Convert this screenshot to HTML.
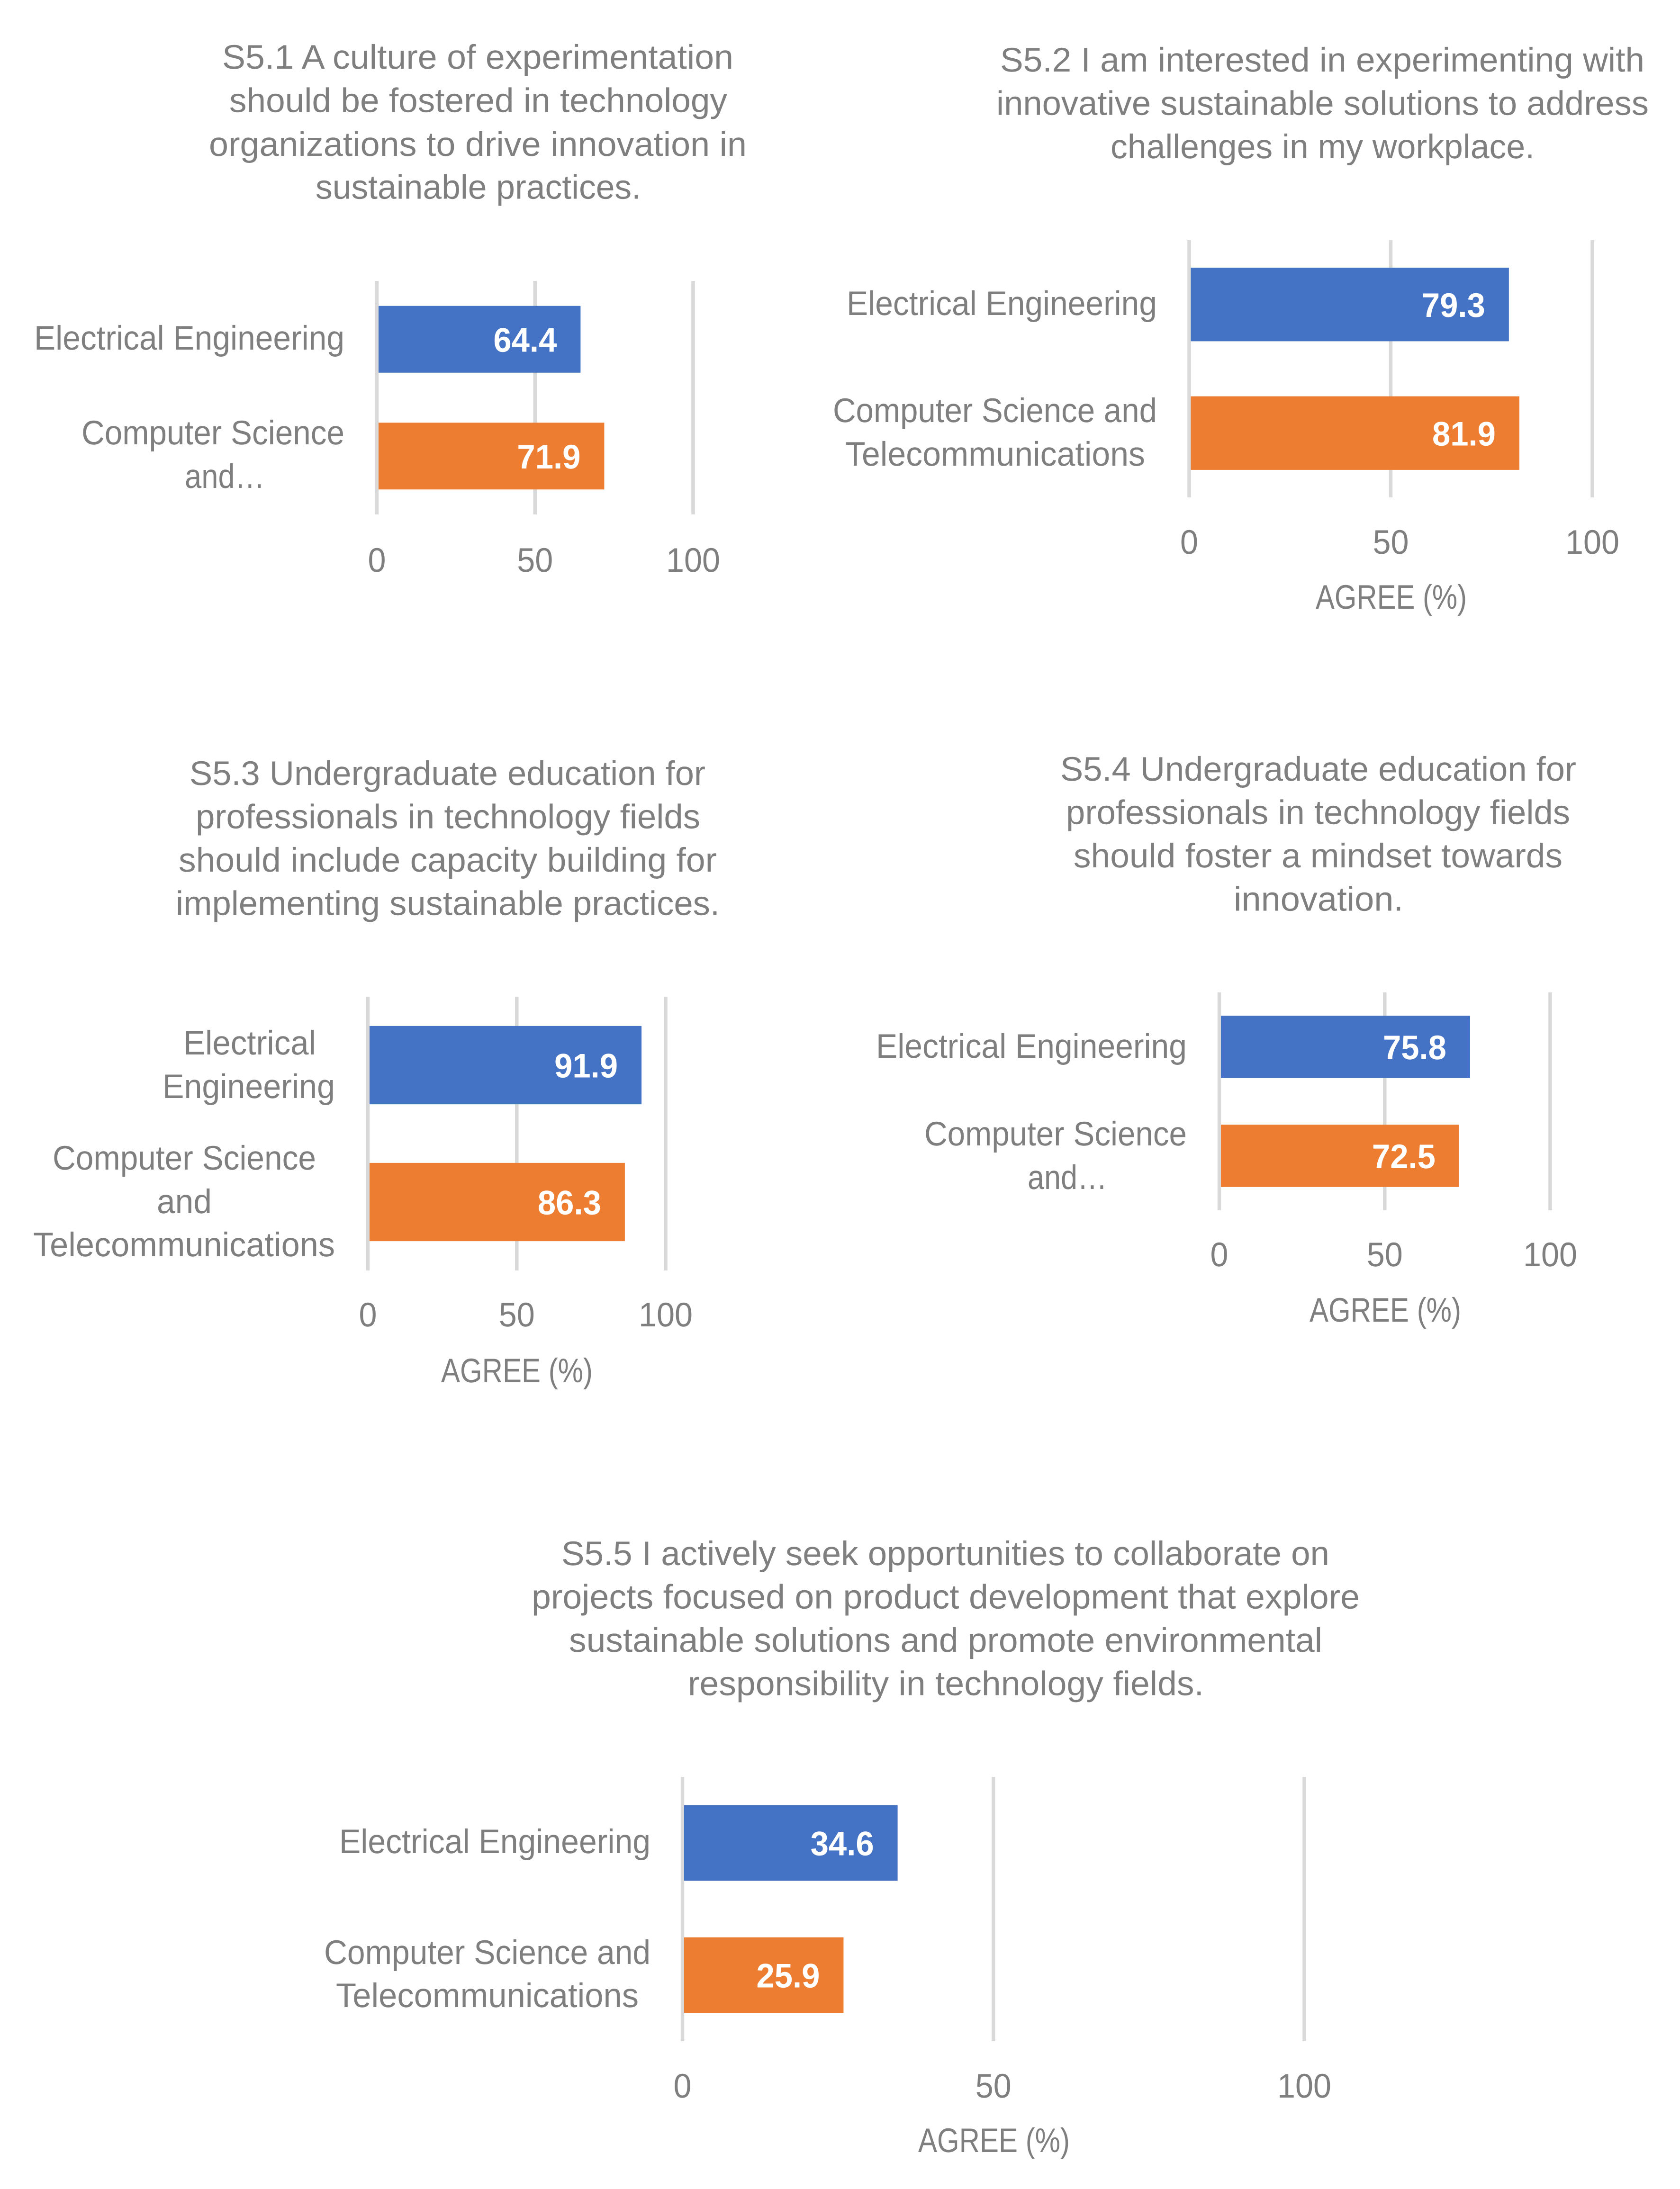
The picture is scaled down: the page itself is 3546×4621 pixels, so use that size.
<!DOCTYPE html>
<html lang="en">
<head>
<meta charset="utf-8">
<title>S5 agreement by department</title>
<style>
html,body{margin:0;padding:0;background:#fff;width:3546px;height:4621px;overflow:hidden}
svg{display:block}
text{font-family:"Liberation Sans",sans-serif;font-size:72px;fill:#7f7f7f;text-rendering:geometricPrecision}
.value{font-weight:bold;fill:#fff}
</style>
</head>
<body>
<svg id="figure" xmlns="http://www.w3.org/2000/svg" width="3546" height="4621" viewBox="0 0 3546 4621">
  <rect x="0" y="0" width="3546" height="4621" fill="#ffffff"/>

  <g>
    <text x="469" y="145" textLength="1079" lengthAdjust="spacingAndGlyphs">S5.1 A culture of experimentation</text>
    <text x="484" y="236.5" textLength="1051" lengthAdjust="spacingAndGlyphs">should be fostered in technology</text>
    <text x="441" y="329" textLength="1135" lengthAdjust="spacingAndGlyphs">organizations to drive innovation in</text>
    <text x="666" y="419.5" textLength="687" lengthAdjust="spacingAndGlyphs">sustainable practices.</text>
  </g>
  <g>
    <text x="2111" y="151" textLength="1360" lengthAdjust="spacingAndGlyphs">S5.2 I am interested in experimenting with</text>
    <text x="2103" y="242.5" textLength="1377" lengthAdjust="spacingAndGlyphs">innovative sustainable solutions to address</text>
    <text x="2344" y="334" textLength="895" lengthAdjust="spacingAndGlyphs">challenges in my workplace.</text>
  </g>
  <g>
    <text x="400" y="1657" textLength="1089" lengthAdjust="spacingAndGlyphs">S5.3 Undergraduate education for</text>
    <text x="413" y="1748.5" textLength="1065" lengthAdjust="spacingAndGlyphs">professionals in technology fields</text>
    <text x="377" y="1840" textLength="1136" lengthAdjust="spacingAndGlyphs">should include capacity building for</text>
    <text x="371" y="1931.5" textLength="1148" lengthAdjust="spacingAndGlyphs">implementing sustainable practices.</text>
  </g>
  <g>
    <text x="2238" y="1648" textLength="1089" lengthAdjust="spacingAndGlyphs">S5.4 Undergraduate education for</text>
    <text x="2250" y="1739.5" textLength="1064" lengthAdjust="spacingAndGlyphs">professionals in technology fields</text>
    <text x="2266" y="1831" textLength="1032" lengthAdjust="spacingAndGlyphs">should foster a mindset towards</text>
    <text x="2604" y="1922.5" textLength="358" lengthAdjust="spacingAndGlyphs">innovation.</text>
  </g>
  <g>
    <text x="1185" y="3304" textLength="1621" lengthAdjust="spacingAndGlyphs">S5.5 I actively seek opportunities to collaborate on</text>
    <text x="1122" y="3395.5" textLength="1748" lengthAdjust="spacingAndGlyphs">projects focused on product development that explore</text>
    <text x="1201" y="3487" textLength="1590" lengthAdjust="spacingAndGlyphs">sustainable solutions and promote environmental</text>
    <text x="1452" y="3578.5" textLength="1089" lengthAdjust="spacingAndGlyphs">responsibility in technology fields.</text>
  </g>
</svg>
<script>
const tickLabels = [0, 50, 100];
const axisTitleText = "AGREE (%)";

const s51Categories = [["Electrical Engineering"], ["Computer Science", "and…"]];
const s52Categories = [["Electrical Engineering"], ["Computer Science and", "Telecommunications"]];
const s53Categories = [["Electrical", "Engineering"], ["Computer Science", "and", "Telecommunications"]];
const s54Categories = [["Electrical Engineering"], ["Computer Science", "and…"]];
const s55Categories = [["Electrical Engineering"], ["Computer Science and", "Telecommunications"]];

const s51Values = [64.4, 71.9];
const s52Values = [79.3, 81.9];
const s53Values = [91.9, 86.3];
const s54Values = [75.8, 72.5];
const s55Values = [34.6, 25.9];

const barColors = ["#4472c4", "#ed7d31"];

/* Layout only: plot frames and text boxes [left, right, baseline] for category label lines. */
const charts = [
  {id:"s5-1", categories:s51Categories, values:s51Values, x0:795.5, x100:1463, top:593, bottom:1086, tickY:1207, titleY:null, titleX:[0,0],
   labels:[[[75,724,738]], [[175,724,938],[393,556,1030]]]},
  {id:"s5-2", categories:s52Categories, values:s52Values, x0:2510, x100:3361, top:507, bottom:1050, tickY:1169, titleY:1285, titleX:[2778,3093],
   labels:[[[1790,2439,665]], [[1761,2439,891],[1787,2414,983]]]},
  {id:"s5-3", categories:s53Categories, values:s53Values, x0:776.5, x100:1405, top:2104, bottom:2682, tickY:2800, titleY:2918, titleX:[932,1248],
   labels:[[[390,664,2226],[346,704,2318]], [[114,664,2469],[334,444,2561],[73,704,2652]]]},
  {id:"s5-4", categories:s54Categories, values:s54Values, x0:2573.5, x100:3272, top:2095, bottom:2555, tickY:2673, titleY:2790, titleX:[2765,3081],
   labels:[[[1852,2502,2233]], [[1954,2502,2418],[2172,2334,2510]]]},
  {id:"s5-5", categories:s55Categories, values:s55Values, x0:1440.5, x100:2753, top:3751, bottom:4309, tickY:4428, titleY:4543, titleX:[1939,2255],
   labels:[[[719,1370,3912]], [[687,1370,4146],[712,1345,4237]]]}
];

const SVG_NS = "http://www.w3.org/2000/svg";
const figure = document.getElementById("figure");

function make(tag, attrs, parent) {
  const el = document.createElementNS(SVG_NS, tag);
  Object.keys(attrs).forEach(function (k) { el.setAttribute(k, attrs[k]); });
  parent.appendChild(el);
  return el;
}

function drawChart(chart) {
  const xScale = function (v) { return chart.x0 + (v / 100) * (chart.x100 - chart.x0); };
  const band = (chart.bottom - chart.top) / chart.categories.length;
  const barHeight = band * 0.572;
  const bandCenter = function (i) { return chart.top + (i + 0.5) * band; };

  const group = make("g", {}, figure);
  
  

  tickLabels.forEach(function (t) {
    const line = make("line", {x1: xScale(t), x2: xScale(t), y1: chart.top, y2: chart.bottom, stroke: "#d9d9d9", "stroke-width": 7.5}, group);
    
    

    const label = make("text", {x: xScale(t), y: chart.tickY, "text-anchor": "middle", textLength: String(t).length * 38, lengthAdjust: "spacingAndGlyphs"}, group);
    label.textContent = t;
    
    
  });

  chart.values.forEach(function (v, i) {
    const left = xScale(0) + 3.5;
    const right = xScale(v);
    const bar = make("rect", {x: left, y: bandCenter(i) - barHeight / 2, width: right - left, height: barHeight, fill: barColors[i]}, group);
    
    

    const value = make("text", {"class": "value", x: right - 50 - 134, y: bandCenter(i) + 26, textLength: 134, lengthAdjust: "spacingAndGlyphs"}, group);
    value.textContent = v.toFixed(1);
    
    
  });

  chart.categories.forEach(function (lines, i) {
    lines.forEach(function (txt, j) {
      const box = chart.labels[i][j];
      const cat = make("text", {x: box[0] - 3, y: box[2], textLength: box[1] - box[0] + 6, lengthAdjust: "spacingAndGlyphs"}, group);
      cat.textContent = txt;
      
      
    });
  });

  if (chart.titleY !== null) {
    const title = make("text", {x: chart.titleX[0] - 1, y: chart.titleY, textLength: chart.titleX[1] - chart.titleX[0] + 4, lengthAdjust: "spacingAndGlyphs"}, group);
    title.textContent = axisTitleText;
    
    
  }
}

charts.forEach(drawChart);
</script>
</body>
</html>
